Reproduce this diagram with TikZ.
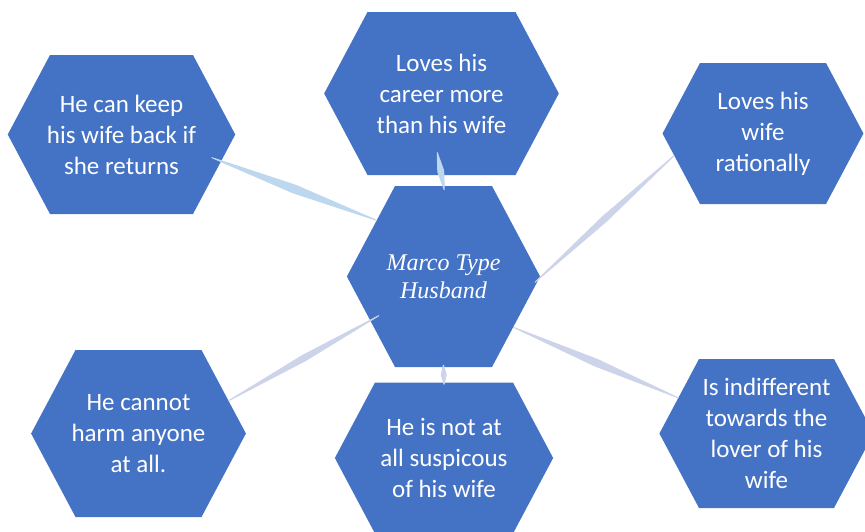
\documentclass[tikz,border=0pt]{standalone}
\usepackage{fontspec}
\setmainfont{Carlito}
\newfontfamily\hubfont{Liberation Serif}
\usetikzlibrary{shapes.symbols,calc}
\definecolor{hexblue}{HTML}{4472C4}
\definecolor{linkblue}{HTML}{BDD7EE}
\definecolor{linkgrey}{HTML}{CDD4EA}
\newcommand\link[6]{%
	\path ($(#1)!-#5!(#2)$) coordinate (la) ($(#2)!-#6!(#1)$) coordinate (lb);
	\filldraw[#4,line width=1pt,line join=round] (la) -- ($(la)!0.5!(lb)!#3!90:(lb)$) -- (lb) -- ($(la)!0.5!(lb)!#3!-90:(lb)$) -- cycle;}

\begin{document}
\begin{tikzpicture}[x=1pt,y=-1pt,
	hexa/.style={signal,signal to=west and east,signal pointer angle=124,fill=hexblue,text=white,align=flush center,text width=170pt,inner ysep=0pt,font=\fontsize{25}{31}\selectfont}]
	\useasboundingbox (0,0) rectangle (865,531);
	\node[hexa,inner xsep=-13.5pt,minimum height=159pt] (keep) at (121.5,134.5) {He can keep\\his wife back if\\she returns};
	\node[hexa,inner xsep=-11pt,minimum height=163pt] (career) at (441.5,93.5) {Loves his\\career more\\than his wife};
	\node[hexa,inner xsep=-22pt,minimum height=141pt] (loves) at (763,133.5) {Loves his\\wife\\rationally};
	\node[hexa,inner xsep=-36.5pt,minimum height=181pt,font=\hubfont\itshape\fontsize{24}{28}\selectfont] (hub) at (443.5,276.5) {Marco Type\\Husband};
	\node[hexa,inner xsep=-22pt,minimum height=167pt] (harm) at (138.5,433.5) {He cannot\\harm anyone\\at all.};
	\node[hexa,inner xsep=-16pt,minimum height=151pt] (susp) at (444,458) {He is not at\\all suspicous\\of his wife};
	\node[hexa,inner xsep=-17.5pt,minimum height=149pt] (lover) at (766.5,433.5) {Is indifferent\\towards the\\lover of his\\wife};
	\foreach \a/\b/\w/\c/\e/\f in {keep.345/hub.140/4pt/linkblue/10pt/0pt,
		career.south/hub.north/3pt/linkblue/23pt/4pt,
		loves.194/hub.359/3pt/linkgrey/0pt/6pt,
		hub.324/lover.158/3.5pt/linkgrey/0pt/0pt,
		hub.211/harm.20/3pt/linkgrey/10pt/0pt,
		hub.south/susp.north/2.5pt/linkgrey/2pt/2pt}
	{
	\link{\a}{\b}{\w}{\c}{\e}{\f}
	}
\end{tikzpicture}
\end{document}
